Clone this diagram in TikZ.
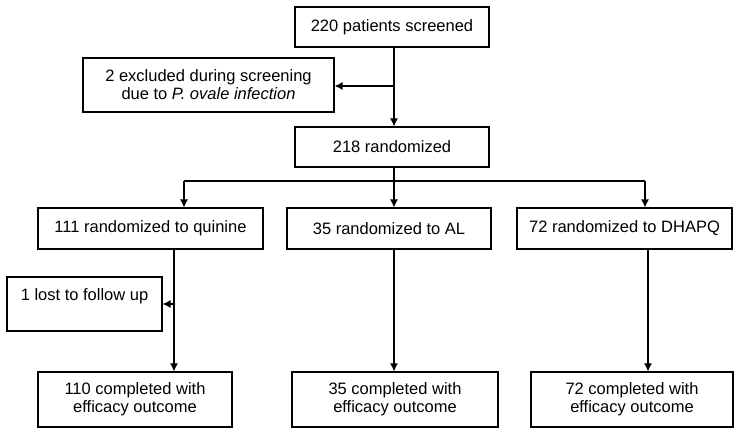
\documentclass[tikz,border=0pt]{standalone}
\usepackage{fontspec}
\setmainfont{Liberation Sans}
\usetikzlibrary{arrows.meta}
\begin{document}
\begin{tikzpicture}[x=1pt,y=-1pt,
  box/.style={draw, line width=1.1pt, inner sep=0pt, align=center, font=\fontsize{16.5}{18}\selectfont},
  conn/.style={line width=1.3pt},
  arr/.style={line width=1.3pt, -{Latex[length=8pt,width=8pt]}}]
\useasboundingbox (0,0) rectangle (741,434);
\node[box, minimum width=194pt, minimum height=40pt] (top) at (392,27) {220 patients screened};
\node[box, minimum width=251pt, minimum height=54pt] (excl) at (208.5,85) {2 excluded during screening\\due to \textit{P. ovale infection}};
\node[box, minimum width=194pt, minimum height=40pt] (rand) at (392,147) {218 randomized};
\node[box, minimum width=225pt, minimum height=41pt] (quin) at (150.5,228.5) {111 randomized to quinine};
\node[box, minimum width=204pt, minimum height=41pt] (al) at (389,228.5) {35 randomized to AL};
\node[box, minimum width=215pt, minimum height=41pt] (dh) at (624.5,228.5) {72 randomized to DHAPQ};
\node[box, minimum width=155pt, minimum height=54pt] (lost) at (84.5,304) {1 lost to follow up\\\mbox{}};
\node[box, minimum width=194pt, minimum height=55pt] (bq) at (135,399.5) {110 completed with\\efficacy outcome};
\node[box, minimum width=206pt, minimum height=55pt] (bal) at (395,399.5) {35 completed with\\efficacy outcome};
\node[box, minimum width=202pt, minimum height=55pt] (bdh) at (632,399.5) {72 completed with\\efficacy outcome};
\coordinate (spine) at (394,0);
\coordinate (ex) at (0,86);
\coordinate (bus) at (0,181);
\coordinate (qa) at (184,0);
\coordinate (dha) at (645,0);
\coordinate (qx) at (174,0);
\coordinate (lx) at (0,304);
\coordinate (dx) at (648,0);
\draw[arr] (top.south -| spine) -- (rand.north -| spine);
\draw[arr] (ex -| spine) -- (ex -| excl.east);
\draw[conn] (rand.south -| spine) -- (bus -| spine);
\draw[conn] (bus -| qa) -- (bus -| dha);
\draw[arr] (bus -| qa) -- (quin.north -| qa);
\draw[arr] (bus -| spine) -- (al.north -| spine);
\draw[arr] (bus -| dha) -- (dh.north -| dha);
\draw[arr] (quin.south -| qx) -- (bq.north -| qx);
\draw[arr] (lx -| qx) -- (lx -| lost.east);
\draw[arr] (al.south -| spine) -- (bal.north -| spine);
\draw[arr] (dh.south -| dx) -- (bdh.north -| dx);
\end{tikzpicture}
\end{document}
